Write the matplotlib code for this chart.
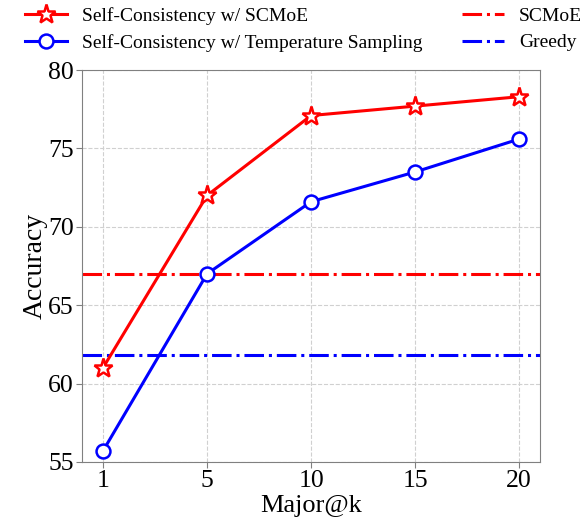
import matplotlib
matplotlib.use("Agg")
import matplotlib.pyplot as plt
import numpy as np

k_labels = ["1", "5", "10", "15", "20"]
scmoe_sc = [61.0, 72.0, 77.1, 77.7, 78.3]
temp_sc = [55.7, 67.0, 71.6, 73.5, 75.6]
scmoe_single = 67.0
greedy = 61.8

plt.rcParams['font.family'] = ['Liberation Serif', 'DejaVu Serif']

fig = plt.figure(figsize=(5.87, 5.19), dpi=100)
ax = fig.add_axes([0.14, 0.11, 0.78, 0.755])

x = np.arange(len(k_labels))
ax.plot(x, scmoe_sc, color='red', lw=2.2, marker='*', markersize=14,
        markerfacecolor='white', markeredgecolor='red', markeredgewidth=1.8,
        label='Self-Consistency w/ SCMoE', zorder=3)
ax.plot(x, temp_sc, color='blue', lw=2.2, marker='o', markersize=10,
        markerfacecolor='white', markeredgecolor='blue', markeredgewidth=1.8,
        label='Self-Consistency w/ Temperature Sampling', zorder=3)
ax.axhline(scmoe_single, color='red', lw=2.2, ls='-.', label='SCMoE')
ax.axhline(greedy, color='blue', lw=2.2, ls='-.', label='Greedy')

ax.set_xticks(x)
ax.set_xticklabels(k_labels)
ax.set_ylim(55, 80)
ax.set_yticks([55, 60, 65, 70, 75, 80])
ax.set_xlim(-0.2, 4.2)
ax.grid(True, ls='--', color='#d0d0d0', lw=0.8)
ax.set_axisbelow(True)
for s in ax.spines.values():
    s.set_color('#808080')
ax.tick_params(labelsize=18.5, color='#808080', length=4, pad=2)
ax.set_xlabel('Major@k', fontsize=19, labelpad=2)
ax.set_ylabel('Accuracy', fontsize=20, labelpad=0.5)

fig.legend(ncol=2, loc='upper center', bbox_to_anchor=(0.517, 1.02), frameon=False,
           fontsize=14, columnspacing=2.05, handlelength=2.15,
           labelspacing=0.45, handletextpad=0.77)

fig.savefig('out.png', dpi=100)
